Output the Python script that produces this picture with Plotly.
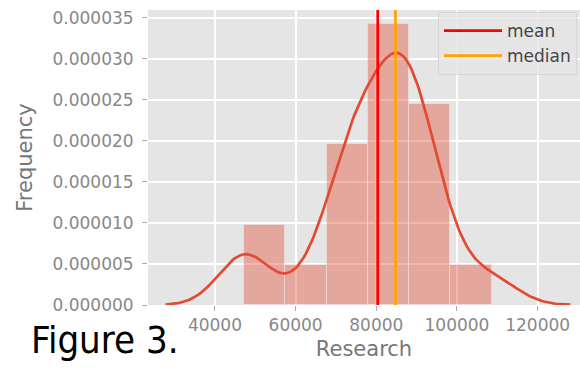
import numpy as np
import plotly.graph_objects as go

# Research spending of the 20 observations
research = np.array([
    47270, 47700, 65610, 73150, 73600, 74040, 74490, 78120, 78550, 84540,
    84960, 85350, 85760, 86200, 88910, 89360, 89800, 95240, 95680, 108570,
], dtype=float)

n_bins = 6
x_ticks = [40000, 60000, 80000, 100000, 120000]
x_tick_text = ["40000", "60000", "80000", "100000", "120000"]
y_ticks = [0.0, 5e-6, 1e-5, 1.5e-5, 2e-5, 2.5e-5, 3e-5, 3.5e-5]
y_tick_text = ["0.000000", "0.000005", "0.000010", "0.000015",
               "0.000020", "0.000025", "0.000030", "0.000035"]


def scott_bandwidth(x):
    """Scott's rule with the robust spread estimate (min of std and IQR/1.349)."""
    sd = np.std(x, ddof=1)
    q75, q25 = np.percentile(x, [75, 25])
    return 1.059 * min(sd, (q75 - q25) / 1.349) * len(x) ** -0.2


def gaussian_kde(x, pts, h):
    z = (pts[:, None] - x[None, :]) / h
    return np.exp(-0.5 * z * z).sum(axis=1) / (len(x) * h * np.sqrt(2 * np.pi))


# normalised histogram
density, bin_edges = np.histogram(research, bins=n_bins, density=True)
centers = (bin_edges[:-1] + bin_edges[1:]) / 2
bin_width = bin_edges[1] - bin_edges[0]

# kernel density estimate on a support cut 3 bandwidths beyond the data
bw = scott_bandwidth(research)
grid = np.linspace(research.min() - 3 * bw, research.max() + 3 * bw, 200)
kde_y = gaussian_kde(research, grid, bw)

mean_v = research.mean()
median_v = np.median(research)
y_top = 1.05 * max(density.max(), kde_y.max())

fig = go.Figure()
fig.add_bar(
    x=centers, y=density, width=bin_width,
    marker=dict(color="rgba(226,74,51,0.4)", line=dict(color="rgba(238,238,238,0.5)", width=1)),
    showlegend=False, hoverinfo="skip",
)
fig.add_scatter(x=grid, y=kde_y, mode="lines", line=dict(color="#E24A33", width=2.7), showlegend=False)
fig.add_scatter(x=[mean_v, mean_v], y=[0, y_top], mode="lines", name="mean",
                line=dict(color="#FF0000", width=2.7))
fig.add_scatter(x=[median_v, median_v], y=[0, y_top], mode="lines", name="median",
                line=dict(color="#FFA500", width=2.7))

tick_font = dict(family="DejaVu Sans", size=17, color="#888888")
label_font = dict(family="DejaVu Sans", size=21, color="#777777")

fig.update_layout(
    width=580, height=369,
    margin=dict(l=148, r=0, t=10, b=64),
    paper_bgcolor="white", plot_bgcolor="#E5E5E5",
    bargap=0,
    showlegend=True,
    legend=dict(
        x=(438 - 148) / 432, xanchor="left", y=(305 - 12) / 295, yanchor="top", itemwidth=58,
        bgcolor="rgba(229,229,229,0.8)", bordercolor="#D6D6D6", borderwidth=1,
        font=dict(family="DejaVu Sans", size=17, color="#444444"),
    ),
    xaxis=dict(
        range=[23400, 130500], tickvals=x_ticks, ticktext=x_tick_text,
        showgrid=True, gridcolor="white", gridwidth=1.5, zeroline=False, showline=False,
        ticks="outside", ticklen=5, tickcolor="#AAAAAA", tickfont=tick_font,
        title=dict(text="Research", font=label_font, standoff=6),
    ),
    yaxis=dict(
        range=[0, y_top], tickvals=y_ticks, ticktext=y_tick_text,
        showgrid=True, gridcolor="white", gridwidth=1.5, zeroline=False, showline=False,
        ticks="outside", ticklen=5, tickcolor="#AAAAAA", tickfont=tick_font, ticklabelstandoff=5,
        title=dict(text="Frequency", font=label_font, standoff=14),
    ),
)

# figure caption below the axes
fig.add_annotation(
    xref="paper", yref="paper", x=(29 - 148) / 432, y=(305 - 340) / 295,
    xanchor="left", yanchor="middle", showarrow=False, text="Figure 3.",
    font=dict(family="Liberation Sans Narrow, DejaVu Sans Condensed, Liberation Sans", size=38, color="black"),
)

fig.write_html("out.html")
